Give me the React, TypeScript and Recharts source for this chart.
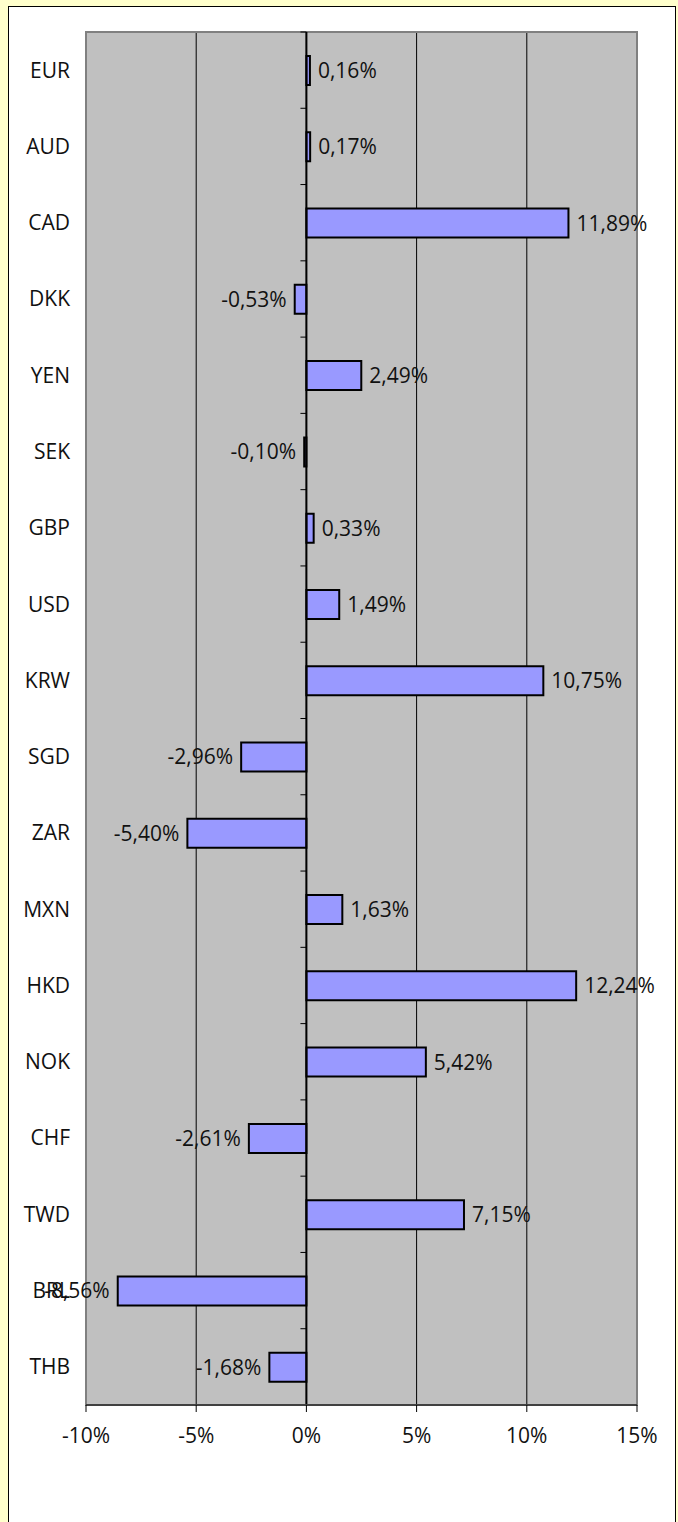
import React from 'react';
import { BarChart, Bar, XAxis, YAxis, CartesianGrid, ReferenceLine, ReferenceArea, LabelList } from 'recharts';

const currencies = ['EUR', 'AUD', 'CAD', 'DKK', 'YEN', 'SEK', 'GBP', 'USD', 'KRW', 'SGD', 'ZAR', 'MXN', 'HKD', 'NOK', 'CHF', 'TWD', 'BRL', 'THB'];
const changes = [0.16, 0.17, 11.89, -0.53, 2.49, -0.1, 0.33, 1.49, 10.75, -2.96, -5.4, 1.63, 12.24, 5.42, -2.61, 7.15, -8.56, -1.68];
const xTicks = [-10, -5, 0, 5, 10, 15];

const data = currencies.map((name, i) => ({ idx: i, name, value: changes[i] }));
const rowTicks = currencies.map((_, i) => i);
// small marks on the zero axis between rows
const boundaries = [-0.5, ...currencies.slice(0, -1).map((_, i) => i + 0.5)];

const fmt = (v: any) => `${Number(v).toFixed(2).replace('.', ',')}%`;

const textStyle = { fill: '#111', fontSize: 21, fontFamily: 'Open Sans' };

const App: React.FC = () => {
  return (
    <div style={styles.page}>
      <div style={styles.panel} />
      <div style={styles.chart}>
        <BarChart
          width={678}
          height={1522}
          data={data}
          layout="vertical"
          margin={{ top: 32, right: 41, left: 0, bottom: 87 }}
        >
          <CartesianGrid horizontal={false} stroke="#000" fill="#C0C0C0" fillOpacity={1} />
          <XAxis
            type="number"
            domain={[-10, 15]}
            ticks={xTicks}
            tickFormatter={(v) => `${v}%`}
            axisLine={{ stroke: '#404040', strokeWidth: 2 }}
            tickLine={{ stroke: '#000' }}
            tickSize={7}
            tickMargin={16}
            height={30}
            tick={textStyle}
          />
          <YAxis
            type="number"
            dataKey="idx"
            domain={[-0.5, 17.5]}
            ticks={rowTicks}
            interval={0}
            width={86}
            axisLine={false}
            tickLine={false}
            tickSize={0}
            tickMargin={16}
            tickFormatter={(i) => currencies[i]}
            tick={textStyle}
          />
          <ReferenceArea x1={-10} x2={15} y1={-0.5} y2={17.5} fill="none" stroke="#808080" strokeWidth={2} />
          <ReferenceLine x={0} stroke="#000" strokeWidth={2} />
          {boundaries.map((b) => (
            <ReferenceLine
              key={b}
              segment={[{ x: -0.27, y: b }, { x: 0, y: b }]}
              stroke="#000"
              strokeWidth={1}
            />
          ))}
          <Bar dataKey="value" fill="#9999FF" stroke="#000" strokeWidth={2} barSize={29} isAnimationActive={false}>
            <LabelList
              dataKey="value"
              position="right"
              offset={8}
              formatter={fmt}
              style={textStyle}
            />
          </Bar>
        </BarChart>
      </div>
    </div>
  );
};

const styles = {
  page: {
    position: 'absolute' as const,
    left: 0,
    top: 0,
    width: 678,
    height: 1522,
    backgroundColor: '#FFFFCC',
    overflow: 'hidden' as const
  },
  panel: {
    position: 'absolute' as const,
    left: 8,
    top: 6,
    width: 668,
    height: 1540,
    boxSizing: 'border-box' as const,
    border: '1px solid #000',
    backgroundColor: '#fff'
  },
  chart: {
    position: 'absolute' as const,
    left: 0,
    top: 0
  }
};

export default App;
